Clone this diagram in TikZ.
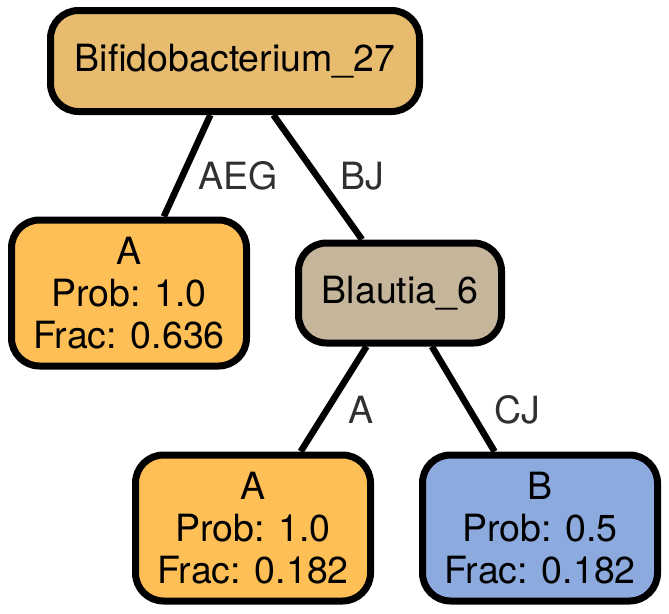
\documentclass[tikz,border=0pt]{standalone}
\usepackage{fontspec}
\setmainfont{TeX Gyre Heros}
\definecolor{rootc}{RGB}{232,188,110}
\definecolor{leafa}{RGB}{254,191,86}
\definecolor{blaut}{RGB}{197,181,155}
\definecolor{leafb}{RGB}{140,170,222}
\definecolor{lbl}{RGB}{48,48,48}
\tikzset{
  box/.style={draw=black, line width=7pt, rounded corners=28pt, align=center,
    font=\fontsize{37.5}{42}\selectfont, inner sep=0pt},
  leafbox/.style={box, minimum width=235pt, minimum height=146pt},
  edge/.style={line width=6.5pt, draw=black},
  elabel/.style={text=lbl, font=\fontsize{37.5}{42}\selectfont, inner sep=0pt}
}
\begin{document}
\begin{tikzpicture}[x=1pt,y=-1pt]
\useasboundingbox (0,0) rectangle (669,613);
\node[box, fill=rootc, minimum width=369pt, minimum height=101pt] (root) at (235,61) {Bifidobacterium\_27};
\node[leafbox, fill=leafa] (a1) at (129,293) {A\\Prob: 1.0\\Frac: 0.636};
\node[box, fill=blaut, minimum width=203pt, minimum height=100pt] (bl) at (400,293) {Blautia\_6};
\node[leafbox, fill=leafa] (a2) at (253,528) {A\\Prob: 1.0\\Frac: 0.182};
\node[leafbox, fill=leafb] (b) at (540,528) {B\\Prob: 0.5\\Frac: 0.182};
\draw[edge] (root) -- (a1);
\draw[edge] (root) -- (bl);
\draw[edge] (bl) -- (a2);
\draw[edge] (bl) -- (b);
\node[elabel] (l1) at (238,176) {AEG};
\node[elabel] (l2) at (362,176) {BJ};
\node[elabel] (l3) at (361,410) {A};
\node[elabel] (l4) at (517,410) {CJ};
\end{tikzpicture}
\end{document}
